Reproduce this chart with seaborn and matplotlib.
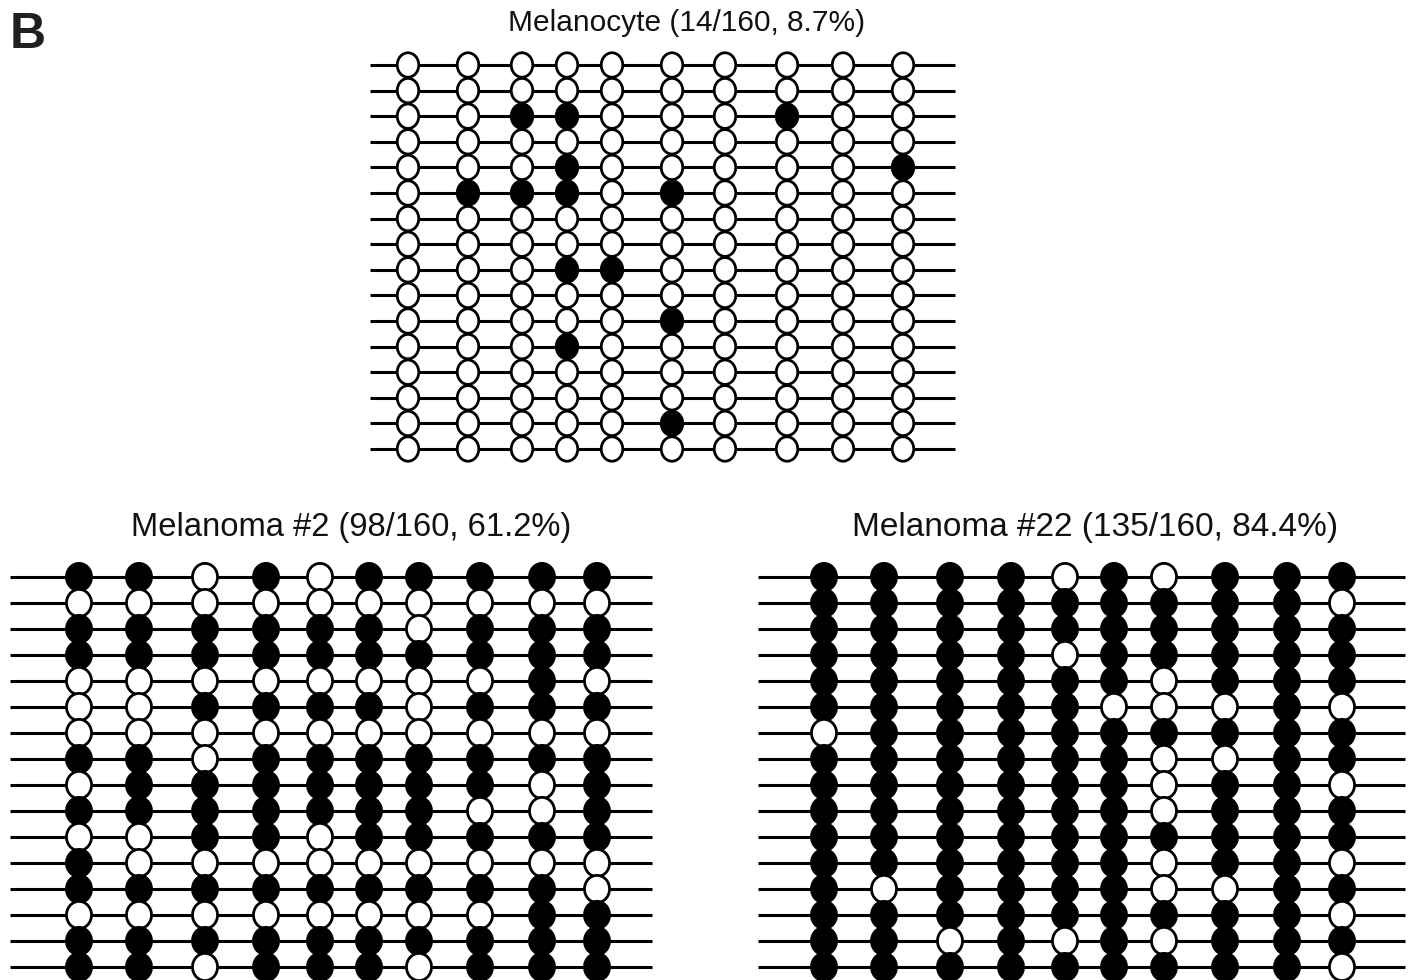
import matplotlib
matplotlib.use("Agg")
import matplotlib.pyplot as plt
import numpy as np
import pandas as pd
import seaborn as sns
from matplotlib.path import Path

# bisulfite sequencing: 1 = methylated CpG (filled), 0 = unmethylated (open)
# 16 clones (rows) x 10 CpG sites (columns)
melanocyte = [
    [0, 0, 0, 0, 0, 0, 0, 0, 0, 0],
    [0, 0, 0, 0, 0, 0, 0, 0, 0, 0],
    [0, 0, 1, 1, 0, 0, 0, 1, 0, 0],
    [0, 0, 0, 0, 0, 0, 0, 0, 0, 0],
    [0, 0, 0, 1, 0, 0, 0, 0, 0, 1],
    [0, 1, 1, 1, 0, 1, 0, 0, 0, 0],
    [0, 0, 0, 0, 0, 0, 0, 0, 0, 0],
    [0, 0, 0, 0, 0, 0, 0, 0, 0, 0],
    [0, 0, 0, 1, 1, 0, 0, 0, 0, 0],
    [0, 0, 0, 0, 0, 0, 0, 0, 0, 0],
    [0, 0, 0, 0, 0, 1, 0, 0, 0, 0],
    [0, 0, 0, 1, 0, 0, 0, 0, 0, 0],
    [0, 0, 0, 0, 0, 0, 0, 0, 0, 0],
    [0, 0, 0, 0, 0, 0, 0, 0, 0, 0],
    [0, 0, 0, 0, 0, 1, 0, 0, 0, 0],
    [0, 0, 0, 0, 0, 0, 0, 0, 0, 0],
]

melanoma_2 = [
    [1, 1, 0, 1, 0, 1, 1, 1, 1, 1],
    [0, 0, 0, 0, 0, 0, 0, 0, 0, 0],
    [1, 1, 1, 1, 1, 1, 0, 1, 1, 1],
    [1, 1, 1, 1, 1, 1, 1, 1, 1, 1],
    [0, 0, 0, 0, 0, 0, 0, 0, 1, 0],
    [0, 0, 1, 1, 1, 1, 0, 1, 1, 1],
    [0, 0, 0, 0, 0, 0, 0, 0, 0, 0],
    [1, 1, 0, 1, 1, 1, 1, 1, 1, 1],
    [0, 1, 1, 1, 1, 1, 1, 1, 0, 1],
    [1, 1, 1, 1, 1, 1, 1, 0, 0, 1],
    [0, 0, 1, 1, 0, 1, 1, 1, 1, 1],
    [1, 0, 0, 0, 0, 0, 0, 0, 0, 0],
    [1, 1, 1, 1, 1, 1, 1, 1, 1, 0],
    [0, 0, 0, 0, 0, 0, 0, 0, 1, 1],
    [1, 1, 1, 1, 1, 1, 1, 1, 1, 1],
    [1, 1, 0, 1, 1, 1, 0, 1, 1, 1],
]

melanoma_22 = [
    [1, 1, 1, 1, 0, 1, 0, 1, 1, 1],
    [1, 1, 1, 1, 1, 1, 1, 1, 1, 0],
    [1, 1, 1, 1, 1, 1, 1, 1, 1, 1],
    [1, 1, 1, 1, 0, 1, 1, 1, 1, 1],
    [1, 1, 1, 1, 1, 1, 0, 1, 1, 1],
    [1, 1, 1, 1, 1, 0, 0, 0, 1, 0],
    [0, 1, 1, 1, 1, 1, 1, 1, 1, 1],
    [1, 1, 1, 1, 1, 1, 0, 0, 1, 1],
    [1, 1, 1, 1, 1, 1, 0, 1, 1, 0],
    [1, 1, 1, 1, 1, 1, 0, 1, 1, 1],
    [1, 1, 1, 1, 1, 1, 1, 1, 1, 1],
    [1, 1, 1, 1, 1, 1, 0, 1, 1, 0],
    [1, 0, 1, 1, 1, 1, 0, 0, 1, 1],
    [1, 1, 1, 1, 1, 1, 1, 1, 1, 0],
    [1, 1, 0, 1, 0, 1, 0, 1, 1, 1],
    [1, 1, 1, 1, 1, 1, 1, 1, 1, 0],
]

titles = [
    "Melanocyte (14/160, 8.7%)",
    "Melanoma #2 (98/160, 61.2%)",
    "Melanoma #22 (135/160, 84.4%)",
]
panel_label = "B"

# ---- layout (pixels on a 1410 x 980 canvas) ----
W, H = 1410, 980
site_x_top = [0, 60, 114, 159, 204, 264, 317, 379, 435, 495]
site_x_bottom = [0, 60, 126, 187, 241, 290, 340, 401, 463, 518]

sns.set_style("white")
plt.rcParams["font.family"] = ["Liberation Sans", "DejaVu Sans"]

fig = plt.figure(figsize=(W / 100, H / 100), dpi=100)


def ellipse_marker(ratio):
    circ = Path.unit_circle()
    return Path(circ.vertices * np.array([ratio, 1.0]), circ.codes)


def to_long(matrix, sites):
    arr = np.array(matrix)
    rows, cols = np.indices(arr.shape)
    return pd.DataFrame({
        "site": np.array(sites)[cols.ravel()],
        "clone": rows.ravel(),
        "state": np.where(arr.ravel() == 1, "methylated", "unmethylated"),
    })


def draw_panel(matrix, sites, x0, row0, step, xlim, line_ext, s, ratio):
    # axes placed so that data units map onto pixel positions
    n = len(matrix)
    left = x0 + xlim[0]
    right = x0 + xlim[1]
    top = row0 - 0.5 * step
    bottom = row0 + (n - 0.5) * step
    ax = fig.add_axes([left / W, 1 - bottom / H, (right - left) / W, (bottom - top) / H])
    ax.hlines(range(n), line_ext[0], line_ext[1], color="black", lw=2.2, zorder=1)
    sns.scatterplot(data=to_long(matrix, sites), x="site", y="clone", hue="state",
                    palette={"methylated": "black", "unmethylated": "white"},
                    marker=ellipse_marker(ratio), s=s, edgecolor="black",
                    linewidth=2.0, legend=False, ax=ax, zorder=3, clip_on=False)
    ax.set_xlim(*xlim)
    ax.set_ylim(n - 0.5, -0.5)
    ax.set_axis_off()
    return ax


draw_panel(melanocyte, site_x_top, 408, 65, 25.6, (-45, 555), (-38, 547), 310, 0.88)
draw_panel(melanoma_2, site_x_bottom, 79, 577, 26, (-75, 580), (-69, 573), 385, 0.92)
draw_panel(melanoma_22, site_x_bottom, 824, 577, 26, (-70, 585), (-66, 581), 385, 0.92)

fig.text(687 / W, 1 - 31 / H, titles[0], ha="center", va="baseline", fontsize=21.5, color="#111111")
fig.text(351 / W, 1 - 536 / H, titles[1], ha="center", va="baseline", fontsize=23.6, color="#111111")
fig.text(1095 / W, 1 - 536 / H, titles[2], ha="center", va="baseline", fontsize=24, color="#111111")
fig.text(10 / W, 1 - 48 / H, panel_label, ha="left", va="baseline", fontsize=36,
         fontweight="bold", color="#231f20")

fig.savefig("out.png", dpi=100)
